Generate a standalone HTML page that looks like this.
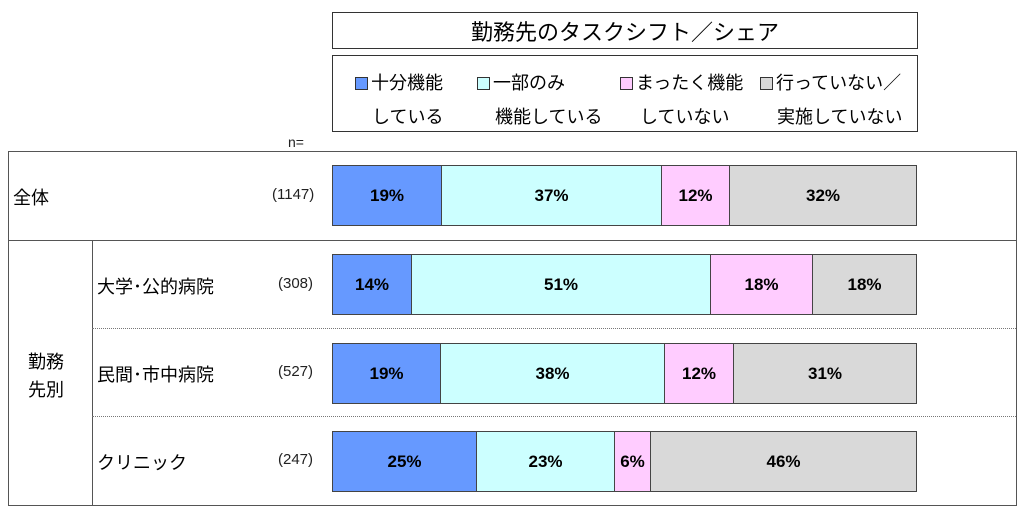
<!DOCTYPE html>
<html><head><meta charset="utf-8"><style>
body{margin:0;width:1024px;height:517px;background:#fff;position:relative;font-family:"Liberation Sans","Noto Sans CJK JP",sans-serif;color:#000;overflow:hidden}
.a{position:absolute}
.box{position:absolute;border:1px solid #333;box-sizing:border-box}
.seg{position:absolute;top:0;height:100%;box-sizing:border-box;border:1px solid #444;display:flex;align-items:center;justify-content:center;font-weight:bold;font-size:17px}
.b{background:#6699ff}.c{background:#ccffff}.p{background:#ffccff}.g{background:#d9d9d9}
.lab{font-size:18px}
.n{font-size:15px;color:#222}
.sq{display:inline-block;width:11px;height:11px;border:1px solid #333;margin-right:3px;vertical-align:-1px}
.lg{position:absolute;font-size:18px;white-space:nowrap}
</style></head><body>
<div class="box" style="left:332px;top:12px;width:586px;height:37px;display:flex;align-items:center;justify-content:center;font-size:22px">勤務先のタスクシフト／シェア</div>
<div class="box" style="left:332px;top:55px;width:586px;height:77px"></div>
<div class="lg" style="left:355px;top:69px"><span class="sq b"></span>十分機能</div>
<div class="lg" style="left:372px;top:103px">している</div>
<div class="lg" style="left:477px;top:69px"><span class="sq c"></span>一部のみ</div>
<div class="lg" style="left:495px;top:103px">機能している</div>
<div class="lg" style="left:620px;top:69px"><span class="sq p"></span>まったく機能</div>
<div class="lg" style="left:640px;top:103px">していない</div>
<div class="lg" style="left:760px;top:69px"><span class="sq g"></span>行っていない／</div>
<div class="lg" style="left:777px;top:103px">実施していない</div>
<div class="a n" style="left:288px;top:134px;font-size:14px">n=</div>
<div class="box" style="left:8px;top:151px;width:1009px;height:355px;border-color:#555"></div>
<div class="a" style="left:8px;top:240px;width:1009px;height:1px;background:#555"></div>
<div class="a" style="left:92px;top:240px;width:1px;height:265px;background:#555"></div>
<div class="a" style="left:92px;top:328px;width:924px;border-top:1px dotted #777"></div>
<div class="a" style="left:92px;top:416px;width:924px;border-top:1px dotted #777"></div>
<div class="a lab" style="left:13px;top:184px">全体</div>
<div class="a lab" style="left:28px;top:348px;line-height:28px">勤務<br>先別</div>
<div class="a lab" style="left:97px;top:273px">大学･公的病院</div>
<div class="a lab" style="left:97px;top:361px">民間･市中病院</div>
<div class="a lab" style="left:97px;top:449px">クリニック</div>
<div class="a n" style="left:272px;top:186px">(1147)</div>
<div class="a n" style="left:278px;top:275px">(308)</div>
<div class="a n" style="left:278px;top:363px">(527)</div>
<div class="a n" style="left:278px;top:451px">(247)</div>

<div class="a" style="left:332px;top:165px;width:585px;height:61px">
<div class="seg b" style="left:0;width:110px">19%</div><div class="seg c" style="left:109px;width:221px">37%</div><div class="seg p" style="left:329px;width:69px">12%</div><div class="seg g" style="left:397px;width:188px">32%</div></div>
<div class="a" style="left:332px;top:254px;width:585px;height:61px">
<div class="seg b" style="left:0;width:80px">14%</div><div class="seg c" style="left:79px;width:300px">51%</div><div class="seg p" style="left:378px;width:103px">18%</div><div class="seg g" style="left:480px;width:105px">18%</div></div>
<div class="a" style="left:332px;top:343px;width:585px;height:61px">
<div class="seg b" style="left:0;width:109px">19%</div><div class="seg c" style="left:108px;width:225px">38%</div><div class="seg p" style="left:332px;width:70px">12%</div><div class="seg g" style="left:401px;width:184px">31%</div></div>
<div class="a" style="left:332px;top:431px;width:585px;height:61px">
<div class="seg b" style="left:0;width:145px">25%</div><div class="seg c" style="left:144px;width:139px">23%</div><div class="seg p" style="left:282px;width:37px">6%</div><div class="seg g" style="left:318px;width:267px">46%</div></div>
</body></html>
